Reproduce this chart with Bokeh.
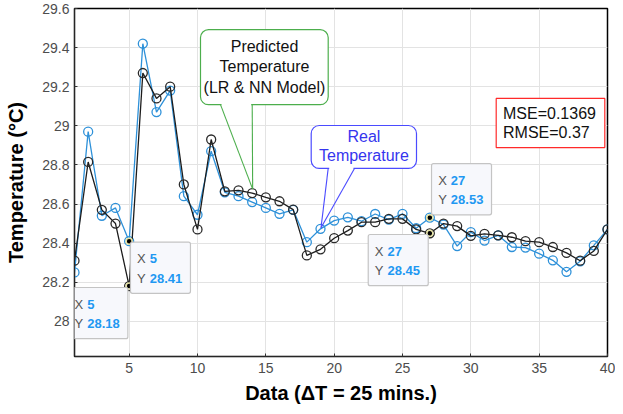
from bokeh.plotting import figure
from bokeh.models import FixedTicker, BoxAnnotation, Label, Range1d
from bokeh.embed import file_html
from bokeh.resources import INLINE

# ---------------- data ----------------
samples = list(range(1, 41))
real_temp = [28.25, 28.97, 28.54, 28.58, 28.41, 29.42, 29.07, 29.18, 28.64, 28.545,
             28.87, 28.66, 28.64, 28.61, 28.58, 28.55, 28.57, 28.405, 28.473, 28.515,
             28.532, 28.512, 28.549, 28.52, 28.55, 28.476, 28.53, 28.495, 28.385, 28.456,
             28.413, 28.44, 28.38, 28.377, 28.346, 28.312, 28.253, 28.307, 28.388, 28.47]
pred_temp = [28.31, 28.815, 28.57, 28.50, 28.18, 29.27, 29.14, 29.20, 28.70, 28.47,
             28.93, 28.665, 28.67, 28.656, 28.634, 28.614, 28.571, 28.337, 28.368, 28.425,
             28.464, 28.507, 28.507, 28.524, 28.524, 28.47, 28.45, 28.50, 28.487, 28.437,
             28.447, 28.44, 28.43, 28.41, 28.405, 28.38, 28.35, 28.31, 28.36, 28.47]
x_ticks = [5, 10, 15, 20, 25, 30, 35, 40]
y_ticks = [28.0, 28.2, 28.4, 28.6, 28.8, 29.0, 29.2, 29.4, 29.6]
y_tick_labels = ["28", "28.2", "28.4", "28.6", "28.8", "29", "29.2", "29.4", "29.6"]
mse_text = ["MSE=0.1369", "RMSE=0.37"]
pred_callout = ["Predicted", "Temperature", "(LR & NN Model)"]
real_callout = ["Real", "Temperature"]
tip_samples = [5, 5, 27, 27]

X0, X1 = 1, 40
Y0, Y1 = 27.82, 29.6

FONT = "Liberation Sans"
BLUE = "#2e91d9"
BLACK = "#1c1c1c"

W, H = 615, 406
BL, BR, BT, BB = 74, 8, 8, 47

# canvas-pixel <-> data helpers (for annotation placement)
FL, FR, FT, FB = BL, W - BR, BT, H - BB
SX = (FR - FL) / (X1 - X0)
SY = (FB - FT) / (Y1 - Y0)


def dx(px):
    return X0 + (px - FL) / SX


def dy(py):
    return Y1 - (py - FT) / SY


def to_px(x):
    return FL + (x - X0) * SX


def to_py(y):
    return FT + (Y1 - y) * SY


p = figure(width=W, height=H,
           x_range=Range1d(X0, X1), y_range=Range1d(Y0, Y1),
           output_backend="svg", toolbar_location=None,
           min_border_left=BL, min_border_right=BR, min_border_top=BT, min_border_bottom=BB,
           background_fill_color="white", border_fill_color="white")

p.xaxis.ticker = FixedTicker(ticks=x_ticks)
p.yaxis.ticker = FixedTicker(ticks=y_ticks)
p.yaxis.major_label_overrides = {t: l for t, l in zip(y_ticks, y_tick_labels)}
p.axis.major_label_text_font = FONT
p.axis.major_label_text_font_size = "14px"
p.axis.major_label_text_color = "#4d4d4d"
p.axis.major_tick_out = 0
p.axis.major_tick_in = 3
p.axis.minor_tick_out = 0
p.axis.minor_tick_in = 0
p.axis.major_tick_line_color = "#333333"
p.axis.axis_line_color = "#262626"
p.xaxis.major_label_standoff = 6
p.yaxis.major_label_standoff = 5
p.xaxis.axis_label = "Data (\u0394T = 25 mins.)"
p.yaxis.axis_label = "Temperature (\u00b0C)"
p.axis.axis_label_text_font = FONT
p.axis.axis_label_text_font_style = "bold"
p.axis.axis_label_text_font_size = "20px"
p.axis.axis_label_text_color = "black"
p.xaxis.axis_label_standoff = 6
p.yaxis.axis_label_standoff = 12
p.grid.grid_line_color = "#e3e3e3"
p.grid.grid_line_width = 1
p.outline_line_color = "black"
p.outline_line_width = 1.5

# ---------------- series ----------------
p.line(samples, real_temp, line_color=BLUE, line_width=1.3)
p.scatter(samples, real_temp, marker="circle", size=9, fill_color=None,
          line_color=BLUE, line_width=1.3)
p.line(samples, pred_temp, line_color=BLACK, line_width=1.3)
p.scatter(samples, pred_temp, marker="circle", size=9, fill_color=None,
          line_color="#2a2a2a", line_width=1.3)

# ---------------- data tips ----------------
tip_vals = [pred_temp[tip_samples[0] - 1], real_temp[tip_samples[1] - 1],
            pred_temp[tip_samples[2] - 1], real_temp[tip_samples[3] - 1]]
p.scatter(tip_samples, tip_vals, marker="circle", size=6, fill_color="black",
          line_color="#e6e3a6", line_width=1.5)

tip_offsets = [(-61.3, 1.4), (1.3, 1.0), (-61.6, 1.2), (1.7, -54.5)]
TIP_W, TIP_H = 60.0, 51.6
for xs, v, (ox, oy) in zip(tip_samples, tip_vals, tip_offsets):
    px, py = to_px(xs), to_py(v)
    left, top = px + ox, py + oy
    p.add_layout(BoxAnnotation(left=dx(left), right=dx(left + TIP_W),
                               top=dy(top), bottom=dy(top + TIP_H),
                               fill_color="#f7f8fc", fill_alpha=1.0,
                               line_color="#c4c4c4", line_alpha=1.0,
                               line_width=1.2, border_radius=2))
    for row, (name, txt) in enumerate([("X", str(xs)), ("Y", "%.2f" % v)]):
        cy = top + 16.7 + row * 19.8
        p.add_layout(Label(x=dx(left + 6.6), y=dy(cy), text=name, text_font=FONT,
                           text_font_size="13px", text_color="#555555",
                           text_baseline="middle", text_align="left"))
        p.add_layout(Label(x=dx(left + 19.3), y=dy(cy), text=txt, text_font=FONT,
                           text_font_size="13px", text_font_style="bold",
                           text_color="#1f98f2", text_baseline="middle",
                           text_align="left"))

# ---------------- callouts ----------------
GREEN = "#4cae4c"
VIOLET = "#4b4bff"


def callout(box, roots, anchor, nudge, color, lines, text_color, centers, cx):
    l, t, r, b = box
    tx, ty = to_px(anchor[0]) + nudge[0], to_py(anchor[1]) + nudge[1]
    p.add_layout(BoxAnnotation(left=dx(l), right=dx(r), top=dy(t), bottom=dy(b),
                               fill_color="white", fill_alpha=1.0, line_color=color,
                               line_alpha=1.0, line_width=1.2, border_radius=8))
    # open the bottom edge between the pointer roots
    p.segment(x0=[dx(roots[0] + 1)], y0=[dy(b)], x1=[dx(roots[1] - 1)], y1=[dy(b)],
              line_color="white", line_width=3, level="overlay")
    p.segment(x0=[dx(roots[0]), dx(roots[1])], y0=[dy(b), dy(b)],
              x1=[dx(tx), dx(tx)], y1=[dy(ty), dy(ty)],
              line_color=color, line_width=1.1, level="overlay")
    for txt, cy in zip(lines, centers):
        p.add_layout(Label(x=dx(cx), y=dy(cy), text=txt, text_font=FONT,
                           text_font_size="16px", text_color=text_color,
                           text_baseline="middle", text_align="center"))


callout((200.0, 29.3, 327.7, 105.0), (220.0, 251.7), (14, pred_temp[13]), (0.5, -4.0),
        GREEN, pred_callout, "#111111", [46.7, 66.7, 87.3], 264.0)
callout((310.7, 126.0, 416.0, 169.3), (327.7, 354.0), (19, real_temp[18]), (0.5, -1.0),
        VIOLET, real_callout, "#3535ee", [136.7, 156.7], 363.4)

# MSE box
p.add_layout(BoxAnnotation(left=dx(495.7), right=dx(604.3), top=dy(98.7), bottom=dy(148.3),
                           fill_color="white", fill_alpha=1.0, line_color="#ff2a2a",
                           line_alpha=1.0, line_width=1.2))
for txt, cy in zip(mse_text, [113.5, 133.5]):
    p.add_layout(Label(x=dx(502.5), y=dy(cy), text=txt, text_font=FONT,
                       text_font_size="16px", text_color="#111111",
                       text_baseline="middle", text_align="left"))

open("out.html", "w").write(file_html(p, INLINE))
